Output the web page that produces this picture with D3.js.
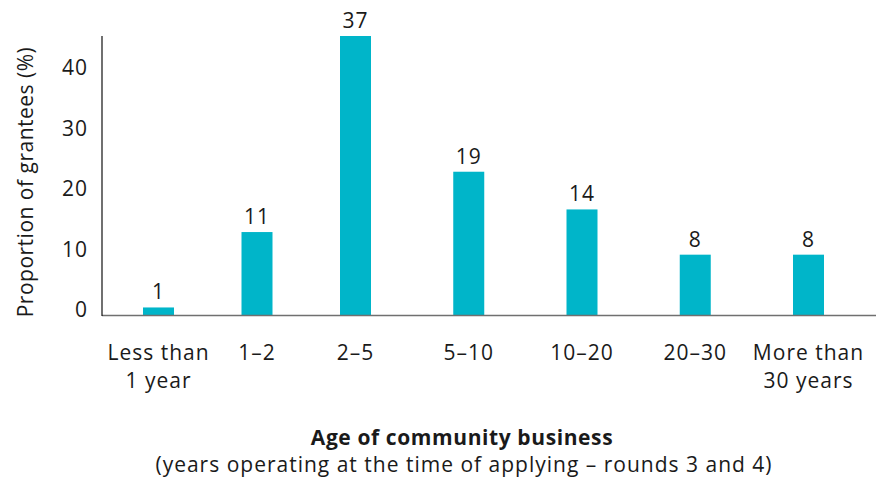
<!DOCTYPE html>
<html>
<head>
<meta charset="utf-8">
<script src="https://cdn.jsdelivr.net/npm/d3@7"></script>
<style>
  html, body { margin: 0; padding: 0; background: #fff; }
  svg { display: block; font-family: "Open Sans", "Noto Sans", sans-serif; }
</style>
</head>
<body>
<svg id="chart" width="876" height="483"></svg>
<script>
// Age bands of community businesses (two-line labels split on "\n")
const categories = ["Less than\n1 year", "1–2", "2–5", "5–10", "10–20", "20–30", "More than\n30 years"];
// Share of grantees in each band (%)
const values = [1, 11, 37, 19, 14, 8, 8];
// Numbers printed along the vertical axis
const yTicks = [0, 10, 20, 30, 40];

const svg = d3.select("#chart");
const W = 876;
const baseY = 315;
const topY = 36;
const axisX = 102;
const barW = 31;
const ink = "#1a1a1a";
const fontSize = 21;
const spacing = "1px";
const fontFamily = "'Open Sans', 'Noto Sans', sans-serif";

// Category centres: the first three bands sit closer together than the rest
const x = d3.scaleLinear()
  .domain([0, 2, categories.length - 1])
  .range([158.5, 355.5, 808.5]);

// Bar heights: tallest bar fills the plot
const yBar = d3.scaleLinear().domain([0, d3.max(values)]).range([baseY, topY]);

// Axis numbering scale
const yAxisScale = d3.scaleLinear().domain([0, 40]).range([309, 67]);

// Y axis numbers (no tick marks, no domain path)
const yAxis = svg.append("g")
  .attr("transform", `translate(${axisX - 14},0)`)
  .call(d3.axisLeft(yAxisScale).tickValues(yTicks).tickSize(0).tickPadding(0))
  .call(g => g.select(".domain").remove());
yAxis.selectAll("text")
  .attr("fill", ink)
  .attr("font-size", fontSize)
  .attr("font-family", fontFamily)
  .attr("letter-spacing", spacing)
  .attr("dy", "0.36em");

// Bars
svg.append("g").selectAll("rect")
  .data(values)
  .join("rect")
  .attr("x", (d, i) => x(i) - barW / 2)
  .attr("y", d => yBar(d))
  .attr("width", barW)
  .attr("height", d => baseY - yBar(d))
  .attr("fill", "#00b5c9");

// Value labels
svg.append("g").selectAll("text")
  .data(values)
  .join("text")
  .attr("x", (d, i) => x(i))
  .attr("y", d => yBar(d) - 8)
  .attr("text-anchor", "middle")
  .attr("fill", ink)
  .attr("font-size", fontSize)
  .attr("letter-spacing", spacing)
  .text(d => d);

// Baseline and vertical axis line
svg.append("line")
  .attr("x1", axisX).attr("x2", W)
  .attr("y1", baseY + 0.5).attr("y2", baseY + 0.5)
  .attr("stroke", "#707070").attr("stroke-width", 1.5);
svg.append("line")
  .attr("x1", axisX).attr("x2", axisX)
  .attr("y1", topY).attr("y2", baseY + 1)
  .attr("stroke", "#111").attr("stroke-width", 1.2);

// Category labels
const cat = svg.append("g").selectAll("text")
  .data(categories)
  .join("text")
  .attr("x", (d, i) => x(i))
  .attr("y", 360)
  .attr("text-anchor", "middle")
  .attr("fill", ink)
  .attr("font-size", fontSize)
  .attr("letter-spacing", spacing);
cat.selectAll("tspan")
  .data(d => d.split("\n"))
  .join("tspan")
  .attr("x", function() { return this.parentNode.getAttribute("x"); })
  .attr("dy", (d, i) => i === 0 ? 0 : 28)
  .text(d => d);

// Y axis title
svg.append("text")
  .attr("transform", "translate(33,182) rotate(-90)")
  .attr("text-anchor", "middle")
  .attr("fill", ink)
  .attr("font-size", fontSize)
  .attr("letter-spacing", "0.5px")
  .text("Proportion of grantees (%)");

// X axis title and subtitle
svg.append("text")
  .attr("x", 462).attr("y", 445)
  .attr("text-anchor", "middle")
  .attr("fill", ink)
  .attr("font-size", fontSize)
  .attr("font-weight", "bold")
  .attr("letter-spacing", "0.6px")
  .text("Age of community business");
svg.append("text")
  .attr("x", 464).attr("y", 472)
  .attr("text-anchor", "middle")
  .attr("fill", ink)
  .attr("font-size", fontSize)
  .attr("letter-spacing", spacing)
  .text("(years operating at the time of applying – rounds 3 and 4)");
</script>
</body>
</html>
